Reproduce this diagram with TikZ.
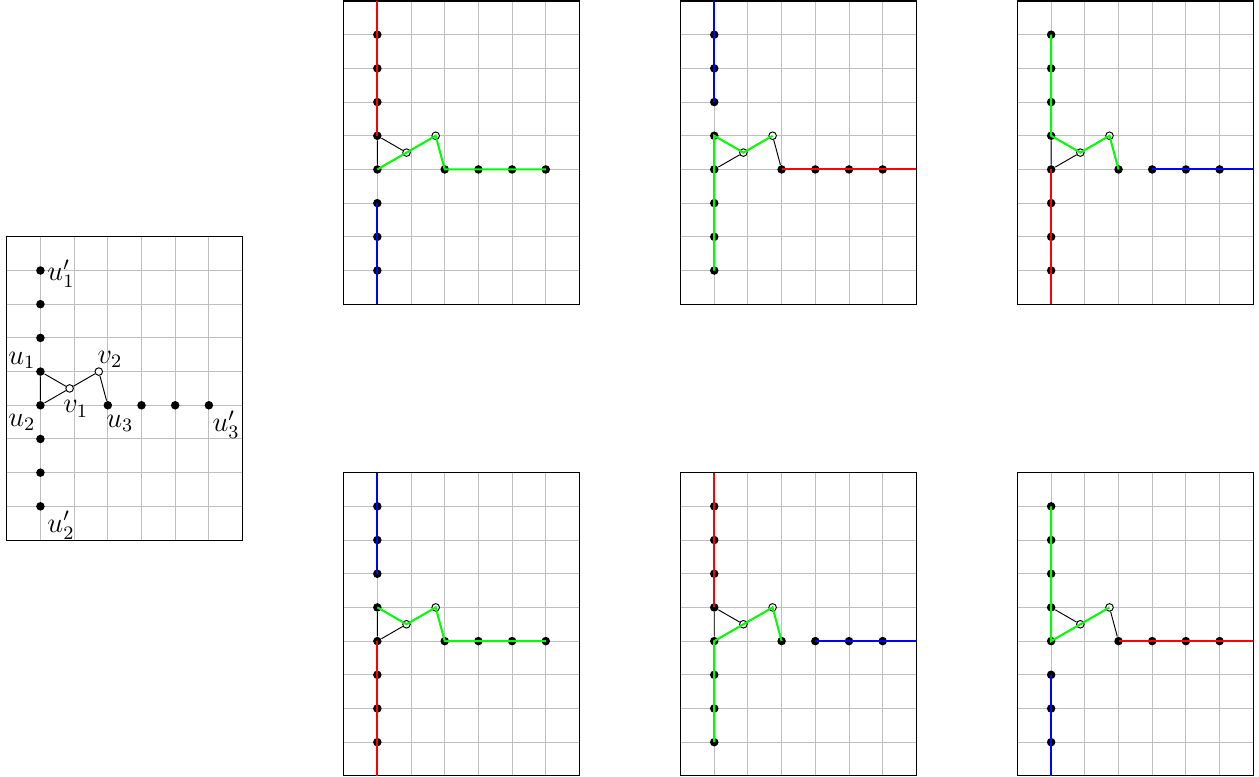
\documentclass[tikz,border=0pt]{standalone}
\usepackage{tikz}
\usepackage{amsmath}

% one panel: grid, frame, vertices and the thin black edges
% #1 = name prefix, #2 = x of lower left corner, #3 = y of lower left corner
\newcommand{\graphpanel}[3]{%
  \begin{scope}[shift={(#2,#3)}]
    % ---- Grid and frame ----
    \draw[gridline] (0,0) grid (7,9);
    \draw[frame] (0,0) rectangle (7,9);
    % ---- Free ends on the frame ----
    \coordinate (#1top) at (1,9);
    \coordinate (#1bot) at (1,0);
    \coordinate (#1end) at (7,4);
    % ---- Vertices ----
    \node[dot] (#1a3) at (1,8) {};
    \node[dot] (#1a2) at (1,7) {};
    \node[dot] (#1a1) at (1,6) {};
    \node[dot] (#1u1) at (1,5) {};
    \node[dot] (#1u2) at (1,4) {};
    \node[dot] (#1b1) at (1,3) {};
    \node[dot] (#1b2) at (1,2) {};
    \node[dot] (#1b3) at (1,1) {};
    \node[dot] (#1u3) at (3,4) {};
    \node[dot] (#1c1) at (4,4) {};
    \node[dot] (#1c2) at (5,4) {};
    \node[dot] (#1c3) at (6,4) {};
    \node[hollow] (#1v1) at ({1+sqrt(3)/2},4.5) {};
    \node[hollow] (#1v2) at ({1+sqrt(3)},5) {};
    % ---- Edges ----
    \draw[edge] (#1u1) -- (#1u2) -- (#1v1) -- (#1u1);
    \draw[edge] (#1v1) -- (#1v2) -- (#1u3);
  \end{scope}}

\begin{document}
\begin{tikzpicture}[scale=0.5,
    gridline/.style={gray!50, line width=0.4pt, step=1},
    frame/.style={black, line width=0.45pt},
    dot/.style={circle, fill=black, inner sep=0pt, minimum size=3.6pt},
    hollow/.style={circle, draw=black, fill=white, line width=0.4pt, inner sep=0pt, minimum size=3.2pt},
    edge/.style={black, line width=0.4pt},
    vlabel/.style={font=\large},
    redpath/.style={red, line width=0.85pt},
    greenpath/.style={green, line width=0.85pt},
    bluepath/.style={blue, line width=0.85pt}]

    \useasboundingbox (-0.2,-0.03) rectangle (37.17,23.03);

    % ---- Left panel with labels ----
    \graphpanel{L}{0}{7}
    \node[vlabel] (lab-a3) at ([shift={(0.61,-0.10)}]La3) {$u'_1$};
    \node[vlabel] (lab-u1) at ([shift={(-0.55,0.33)}]Lu1) {$u_1$};
    \node[vlabel] (lab-v2) at ([shift={(0.33,0.36)}]Lv2) {$v_2$};
    \node[vlabel] (lab-v1) at ([shift={(0.18,-0.61)}]Lv1) {$v_1$};
    \node[vlabel] (lab-u2) at ([shift={(-0.55,-0.51)}]Lu2) {$u_2$};
    \node[vlabel] (lab-u3) at ([shift={(0.36,-0.53)}]Lu3) {$u_3$};
    \node[vlabel] (lab-c3) at ([shift={(0.51,-0.58)}]Lc3) {$u'_3$};
    \node[vlabel] (lab-b3) at ([shift={(0.61,-0.56)}]Lb3) {$u'_2$};

    % ---- Top row ----
    \graphpanel{A}{10}{14}
    \draw[redpath] (Atop) -- (Aa3.center) -- (Aa2.center) -- (Aa1.center) -- (Au1.center);
    \draw[greenpath] (Au2.center) -- (Av1.center) -- (Av2.center) -- (Au3.center)
        -- (Ac1.center) -- (Ac2.center) -- (Ac3.center);
    \draw[bluepath] (Ab1.center) -- (Ab2.center) -- (Ab3.center) -- (Abot);

    \graphpanel{B}{20}{14}
    \draw[bluepath] (Btop) -- (Ba3.center) -- (Ba2.center) -- (Ba1.center);
    \draw[greenpath] (Bb3.center) -- (Bb2.center) -- (Bb1.center) -- (Bu2.center)
        -- (Bu1.center) -- (Bv1.center) -- (Bv2.center);
    \draw[redpath] (Bu3.center) -- (Bc1.center) -- (Bc2.center) -- (Bc3.center) -- (Bend);

    \graphpanel{C}{30}{14}
    \draw[greenpath] (Ca3.center) -- (Ca2.center) -- (Ca1.center) -- (Cu1.center)
        -- (Cv1.center) -- (Cv2.center) -- (Cu3.center);
    \draw[redpath] (Cu2.center) -- (Cb1.center) -- (Cb2.center) -- (Cb3.center) -- (Cbot);
    \draw[bluepath] (Cc1.center) -- (Cc2.center) -- (Cc3.center) -- (Cend);

    % ---- Bottom row ----
    \graphpanel{D}{10}{0}
    \draw[bluepath] (Dtop) -- (Da3.center) -- (Da2.center) -- (Da1.center);
    \draw[greenpath] (Du1.center) -- (Dv1.center) -- (Dv2.center) -- (Du3.center)
        -- (Dc1.center) -- (Dc2.center) -- (Dc3.center);
    \draw[redpath] (Du2.center) -- (Db1.center) -- (Db2.center) -- (Db3.center) -- (Dbot);

    \graphpanel{E}{20}{0}
    \draw[redpath] (Etop) -- (Ea3.center) -- (Ea2.center) -- (Ea1.center) -- (Eu1.center);
    \draw[greenpath] (Eb3.center) -- (Eb2.center) -- (Eb1.center) -- (Eu2.center)
        -- (Ev1.center) -- (Ev2.center) -- (Eu3.center);
    \draw[bluepath] (Ec1.center) -- (Ec2.center) -- (Ec3.center) -- (Eend);

    \graphpanel{F}{30}{0}
    \draw[greenpath] (Fa3.center) -- (Fa2.center) -- (Fa1.center) -- (Fu1.center)
        -- (Fu2.center) -- (Fv1.center) -- (Fv2.center);
    \draw[redpath] (Fu3.center) -- (Fc1.center) -- (Fc2.center) -- (Fc3.center) -- (Fend);
    \draw[bluepath] (Fb1.center) -- (Fb2.center) -- (Fb3.center) -- (Fbot);

\end{tikzpicture}
\end{document}
